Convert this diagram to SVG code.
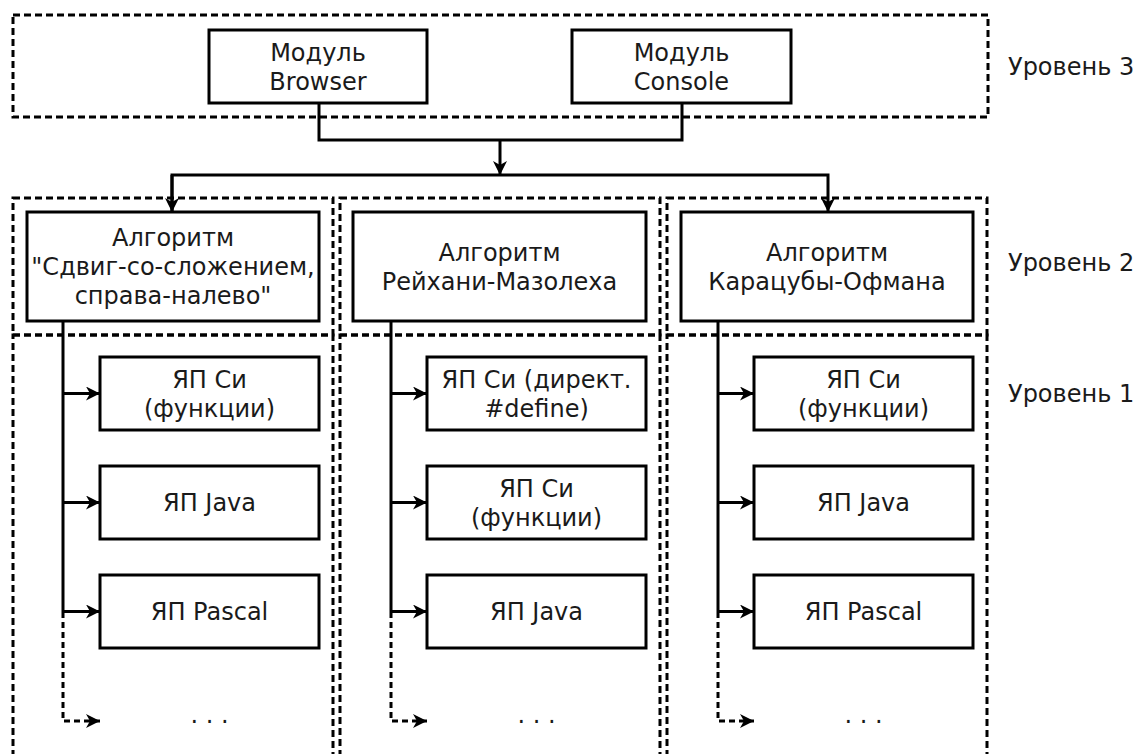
<svg xmlns="http://www.w3.org/2000/svg" width="1141" height="754" viewBox="0 0 1141 754">
<style>
.zone{fill:none;stroke:#000;stroke-width:3;stroke-dasharray:7,4}
.box{fill:#fff;stroke:#000;stroke-width:3}
.t{font-family:"DejaVu Sans","Noto Sans",sans-serif;font-size:24px;fill:#1a1a1a;text-anchor:middle}
.lvl{font-family:"DejaVu Sans","Noto Sans",sans-serif;font-size:24px;fill:#1a1a1a}
.ln{fill:none;stroke:#000;stroke-width:3}
.dl{fill:none;stroke:#000;stroke-width:3;stroke-dasharray:6,4}
</style>
<defs>
<marker id="ah" viewBox="0 0 14 14" refX="14" refY="7" markerWidth="14" markerHeight="14" markerUnits="userSpaceOnUse" orient="auto">
<path d="M0,0 L14,7 L0,14 L4,7 z" fill="#000"/>
</marker>
</defs>
<g id="zones">
<rect class="zone" x="13" y="15" width="975" height="102"/>
<rect class="zone" x="13" y="198" width="320" height="137"/>
<rect class="zone" x="13" y="335" width="320" height="430"/>
<rect class="zone" x="340" y="198" width="320" height="137"/>
<rect class="zone" x="340" y="335" width="320" height="430"/>
<rect class="zone" x="667" y="198" width="320" height="137"/>
<rect class="zone" x="667" y="335" width="320" height="430"/>
</g>
<g id="connectors">
<path class="ln" d="M319,103 V140 H682 V103"/>
<path class="ln" d="M500,140 V175" marker-end="url(#ah)"/>
<path class="ln" d="M172,212 V175 H828 V212" marker-end="url(#ah)"/>
<path class="ln" d="M172,175 V212" marker-end="url(#ah)"/>
<path class="ln" d="M63,321 V612"/>
<path class="ln" d="M63,393.5 H100" marker-end="url(#ah)"/>
<path class="ln" d="M63,502.5 H100" marker-end="url(#ah)"/>
<path class="ln" d="M63,611.5 H100" marker-end="url(#ah)"/>
<path class="dl" d="M63,612 V721 H100" marker-end="url(#ah)"/>
<path class="ln" d="M391,321 V612"/>
<path class="ln" d="M391,393.5 H427" marker-end="url(#ah)"/>
<path class="ln" d="M391,502.5 H427" marker-end="url(#ah)"/>
<path class="ln" d="M391,611.5 H427" marker-end="url(#ah)"/>
<path class="dl" d="M391,612 V721 H427" marker-end="url(#ah)"/>
<path class="ln" d="M718,321 V612"/>
<path class="ln" d="M718,393.5 H754" marker-end="url(#ah)"/>
<path class="ln" d="M718,502.5 H754" marker-end="url(#ah)"/>
<path class="ln" d="M718,611.5 H754" marker-end="url(#ah)"/>
<path class="dl" d="M718,612 V721 H754" marker-end="url(#ah)"/>
</g>
<g id="browser"><rect class="box" x="209" y="30" width="218" height="73"/><text class="t" x="318" y="61">Модуль</text><text class="t" x="318" y="90">Browser</text></g>
<g id="console"><rect class="box" x="572" y="30" width="219" height="73"/><text class="t" x="681.5" y="61">Модуль</text><text class="t" x="681.5" y="90">Console</text></g>
<g id="alg1"><rect class="box" x="27" y="212" width="292" height="109"/><text class="t" x="173" y="246">Алгоритм</text><text class="t" x="173" y="275">"Сдвиг-со-сложением,</text><text class="t" x="173" y="304">справа-налево"</text></g>
<g id="alg2"><rect class="box" x="353" y="212" width="293" height="109"/><text class="t" x="499.5" y="260.5">Алгоритм</text><text class="t" x="499.5" y="289.5">Рейхани-Мазолеха</text></g>
<g id="alg3"><rect class="box" x="681" y="212" width="292" height="109"/><text class="t" x="827" y="260.5">Алгоритм</text><text class="t" x="827" y="289.5">Карацубы-Офмана</text></g>
<g id="c1r1"><rect class="box" x="100" y="357" width="219" height="73"/><text class="t" x="209.5" y="387.5">ЯП Си</text><text class="t" x="209.5" y="416.5">(функции)</text></g>
<g id="c1r2"><rect class="box" x="100" y="466" width="219" height="73"/><text class="t" x="209.5" y="511">ЯП Java</text></g>
<g id="c1r3"><rect class="box" x="100" y="575" width="219" height="73"/><text class="t" x="209.5" y="620">ЯП Pascal</text></g>
<g id="c1more"><text class="t" x="209.5" y="723">. . .</text></g>
<g id="c2r1"><rect class="box" x="427" y="357" width="219" height="73"/><text class="t" x="536.5" y="387.5">ЯП Си (директ.</text><text class="t" x="536.5" y="416.5">#define)</text></g>
<g id="c2r2"><rect class="box" x="427" y="466" width="219" height="73"/><text class="t" x="536.5" y="496.5">ЯП Си</text><text class="t" x="536.5" y="525.5">(функции)</text></g>
<g id="c2r3"><rect class="box" x="427" y="575" width="219" height="73"/><text class="t" x="536.5" y="620">ЯП Java</text></g>
<g id="c2more"><text class="t" x="536.5" y="723">. . .</text></g>
<g id="c3r1"><rect class="box" x="754" y="357" width="219" height="73"/><text class="t" x="863.5" y="387.5">ЯП Си</text><text class="t" x="863.5" y="416.5">(функции)</text></g>
<g id="c3r2"><rect class="box" x="754" y="466" width="219" height="73"/><text class="t" x="863.5" y="511">ЯП Java</text></g>
<g id="c3r3"><rect class="box" x="754" y="575" width="219" height="73"/><text class="t" x="863.5" y="620">ЯП Pascal</text></g>
<g id="c3more"><text class="t" x="863.5" y="723">. . .</text></g>
<g id="levels">
<text class="lvl" x="1008" y="75">Уровень 3</text>
<text class="lvl" x="1008" y="271">Уровень 2</text>
<text class="lvl" x="1008" y="402">Уровень 1</text>
</g>
</svg>
